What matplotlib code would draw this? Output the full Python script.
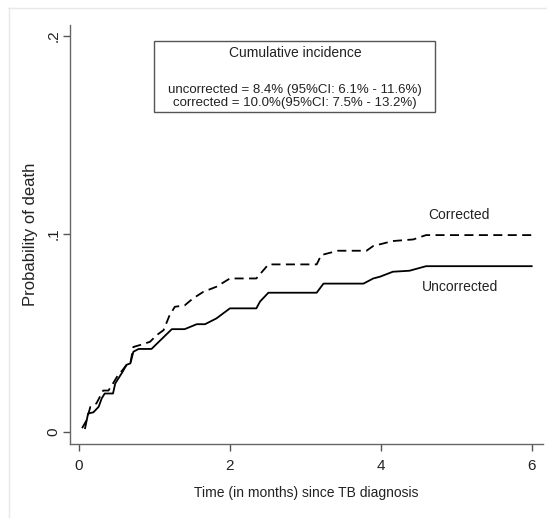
import matplotlib
matplotlib.use("Agg")
import matplotlib.pyplot as plt
from matplotlib.lines import Line2D
from matplotlib.patches import Rectangle

# ---- data (months, cumulative probability) ----
uncorr_t = [0.08, 0.12, 0.19, 0.26, 0.30, 0.34, 0.45, 0.48, 0.57, 0.63, 0.68, 0.72, 0.79, 0.96,
            1.23, 1.40, 1.56, 1.67, 1.82, 2.00, 2.35, 2.40, 2.51, 3.15, 3.24, 3.77, 3.90, 3.99,
            4.16, 4.38, 4.60, 6.00]
uncorr_p = [0.002, 0.0094, 0.010, 0.0128, 0.017, 0.0195, 0.0195, 0.0246, 0.030, 0.034, 0.0347,
            0.0406, 0.042, 0.042, 0.052, 0.052, 0.0545, 0.0545, 0.0574, 0.0625, 0.0625, 0.066,
            0.0704, 0.0704, 0.075, 0.075, 0.0776, 0.0785, 0.081, 0.0815, 0.0838, 0.0838]

corr_t = [0.04, 0.10, 0.15, 0.23, 0.32, 0.39, 0.45, 0.52, 0.57, 0.63, 0.68, 0.72, 0.81, 0.94,
          1.03, 1.12, 1.20, 1.27, 1.40, 1.51, 1.65, 1.82, 2.00, 2.35, 2.51, 3.15, 3.21, 3.43,
          3.81, 3.90, 4.16, 4.43, 4.60, 6.00]
corr_p = [0.002, 0.006, 0.0128, 0.0145, 0.021, 0.021, 0.0246, 0.029, 0.031, 0.034, 0.0347,
          0.043, 0.044, 0.0456, 0.049, 0.0515, 0.059, 0.0633, 0.064, 0.0675, 0.0709, 0.0734,
          0.0776, 0.0776, 0.0847, 0.0847, 0.0894, 0.0916, 0.0916, 0.094, 0.0965, 0.0973,
          0.0995, 0.0995]

x_ticks = [0, 2, 4, 6]
y_ticks = [0, 0.1, 0.2]
y_ticklabels = ["0", ".1", ".2"]

box_title = "Cumulative incidence"
box_lines = ["uncorrected = 8.4% (95%CI: 6.1% - 11.6%)",
             "corrected = 10.0%(95%CI: 7.5% - 13.2%)"]

plt.rcParams["font.family"] = ["Liberation Sans", "DejaVu Sans"]
TXT = "#222222"

W, H = 547, 518
fig = plt.figure(figsize=(W / 100, H / 100), dpi=100)
ax = fig.add_axes([70 / W, 1 - 444 / H, (543 - 70) / W, (444 - 25) / H])

ax.plot(uncorr_t, uncorr_p, color="black", lw=1.3)
ax.plot(corr_t, corr_p, color="black", lw=1.3, linestyle=(0, (5, 3)))

ax.set_xlim(-0.12, 6.15)
ax.set_ylim(-0.006, 0.2056)
ax.set_xticks(x_ticks)
ax.set_yticks(y_ticks)
ax.set_yticklabels(y_ticklabels, rotation=90, va="center")
ax.tick_params(axis="both", colors="#555555", labelcolor=TXT, length=5, width=1)
ax.tick_params(axis="x", labelsize=11, pad=6)
ax.tick_params(axis="y", labelsize=11, pad=2)
for s in ["top", "right"]:
    ax.spines[s].set_visible(False)
for s in ["left", "bottom"]:
    ax.spines[s].set_color("#666666")
    ax.spines[s].set_linewidth(1.0)

ax.set_xlabel("Time (in months) since TB diagnosis", fontsize=10, color=TXT, labelpad=9)
ax.set_ylabel("Probability of death", fontsize=12, color=TXT, labelpad=6)

ax.text(5.03, 0.1096, "Corrected", fontsize=10, ha="center", va="center", color=TXT)
ax.text(5.05, 0.0732, "Uncorrected", fontsize=10, ha="center", va="center", color=TXT)

# legend-like box
bx0, by0, bx1, by1 = 154, 41, 435, 112
fig.patches.append(Rectangle((bx0 / W, 1 - by1 / H), (bx1 - bx0) / W, (by1 - by0) / H,
                             transform=fig.transFigure, fill=False, edgecolor="#555555", lw=1))
fig.text(295 / W, 1 - 53 / H, box_title, fontsize=10, ha="center", va="center", color=TXT)
fig.text(295 / W, 1 - 90 / H, box_lines[0], fontsize=9.5, ha="center", va="center", color=TXT)
fig.text(295 / W, 1 - 103 / H, box_lines[1], fontsize=9.5, ha="center", va="center", color=TXT)

# faint outer border
fig.add_artist(Line2D([8 / W, 1], [1 - 7.5 / H, 1 - 7.5 / H], transform=fig.transFigure,
                      color="#e6e9e6", lw=1))
fig.add_artist(Line2D([8.5 / W, 8.5 / W], [0, 1 - 7.5 / H], transform=fig.transFigure,
                      color="#e6e9e6", lw=1))

fig.savefig("out.png", dpi=100)
